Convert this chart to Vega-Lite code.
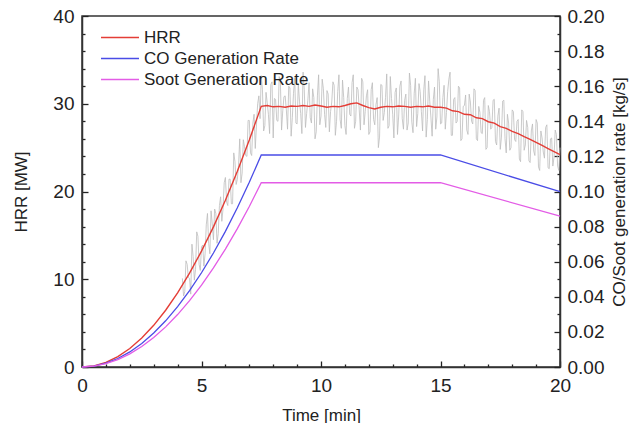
{
  "$schema": "https://vega.github.io/schema/vega-lite/v6.json",
  "width": 478,
  "height": 351,
  "autosize": {"type": "none"},
  "padding": {"left": 82, "top": 16, "right": 80, "bottom": 56},
  "background": "white",
  "config": {
    "font": "Liberation Sans",
    "view": {"stroke": "#333", "strokeWidth": 1.5},
    "axis": {
      "domainColor": "#333", "domainWidth": 1.5, "tickColor": "#222", "tickWidth": 1.3, "ticks": true, "tickSize": 6,
      "grid": false, "labelFont": "Liberation Sans", "labelFontSize": 19, "labelColor": "#222",
      "titleFont": "Liberation Sans", "titleFontSize": 17, "titleFontWeight": "normal", "titleColor": "#222",
      "labelFlush": false, "labelOverlap": false, "labelBound": false
    }
  },
  "data": {"values": [
    {"s":"raw","t":4.2,"v":10.1},{"s":"raw","t":4.3,"v":8.6},{"s":"raw","t":4.4,"v":11.7},{"s":"raw","t":4.5,"v":10.1},{"s":"raw","t":4.6,"v":14.0},{"s":"raw","t":4.7,"v":9.9},{"s":"raw","t":4.8,"v":15.4},{"s":"raw","t":4.9,"v":11.7},
    {"s":"raw","t":5.0,"v":13.7},{"s":"raw","t":5.1,"v":11.5},{"s":"raw","t":5.2,"v":16.2},{"s":"raw","t":5.3,"v":14.1},{"s":"raw","t":5.4,"v":17.8},{"s":"raw","t":5.5,"v":14.5},{"s":"raw","t":5.6,"v":17.5},{"s":"raw","t":5.7,"v":15.2},{"s":"raw","t":5.8,"v":19.4},{"s":"raw","t":5.9,"v":18.0},
    {"s":"raw","t":6.0,"v":21.6},{"s":"raw","t":6.1,"v":18.4},{"s":"raw","t":6.2,"v":21.4},{"s":"raw","t":6.3,"v":18.6},{"s":"raw","t":6.4,"v":23.4},{"s":"raw","t":6.5,"v":21.4},{"s":"raw","t":6.6,"v":26.0},{"s":"raw","t":6.7,"v":22.1},{"s":"raw","t":6.8,"v":25.1},{"s":"raw","t":6.9,"v":24.0},
    {"s":"raw","t":7.0,"v":28.1},{"s":"raw","t":7.1,"v":24.1},{"s":"raw","t":7.2,"v":28.8},{"s":"raw","t":7.3,"v":27.6},{"s":"raw","t":7.4,"v":30.9},{"s":"raw","t":7.5,"v":33.2},{"s":"raw","t":7.6,"v":26.9},{"s":"raw","t":7.7,"v":31.3},{"s":"raw","t":7.8,"v":28.8},{"s":"raw","t":7.9,"v":32.2},
    {"s":"raw","t":8.0,"v":26.1},{"s":"raw","t":8.1,"v":30.5},{"s":"raw","t":8.2,"v":28.0},{"s":"raw","t":8.3,"v":32.6},{"s":"raw","t":8.4,"v":29.2},{"s":"raw","t":8.5,"v":30.9},{"s":"raw","t":8.6,"v":27.1},{"s":"raw","t":8.7,"v":31.8},{"s":"raw","t":8.8,"v":28.4},{"s":"raw","t":8.9,"v":33.0},
    {"s":"raw","t":9.0,"v":27.7},{"s":"raw","t":9.1,"v":30.3},{"s":"raw","t":9.2,"v":26.6},{"s":"raw","t":9.3,"v":31.6},{"s":"raw","t":9.4,"v":28.9},{"s":"raw","t":9.5,"v":32.4},{"s":"raw","t":9.6,"v":27.8},{"s":"raw","t":9.7,"v":30.7},{"s":"raw","t":9.8,"v":26.8},{"s":"raw","t":9.9,"v":33.3},
    {"s":"raw","t":10.0,"v":28.6},{"s":"raw","t":10.1,"v":31.7},{"s":"raw","t":10.2,"v":27.3},{"s":"raw","t":10.3,"v":31.1},{"s":"raw","t":10.4,"v":29.1},{"s":"raw","t":10.5,"v":32.5},{"s":"raw","t":10.6,"v":26.4},{"s":"raw","t":10.7,"v":31.4},{"s":"raw","t":10.8,"v":28.2},{"s":"raw","t":10.9,"v":32.7},
    {"s":"raw","t":11.0,"v":27.5},{"s":"raw","t":11.1,"v":30.6},{"s":"raw","t":11.2,"v":28.8},{"s":"raw","t":11.3,"v":32.4},{"s":"raw","t":11.4,"v":27.2},{"s":"raw","t":11.5,"v":31.9},{"s":"raw","t":11.6,"v":29.3},{"s":"raw","t":11.7,"v":32.9},{"s":"raw","t":11.8,"v":27.6},{"s":"raw","t":11.9,"v":30.9},
    {"s":"raw","t":12.0,"v":26.5},{"s":"raw","t":12.1,"v":31.6},{"s":"raw","t":12.2,"v":28.2},{"s":"raw","t":12.3,"v":29.9},{"s":"raw","t":12.4,"v":25.0},{"s":"raw","t":12.5,"v":32.2},{"s":"raw","t":12.6,"v":28.1},{"s":"raw","t":12.7,"v":30.7},{"s":"raw","t":12.8,"v":27.2},{"s":"raw","t":12.9,"v":33.1},
    {"s":"raw","t":13.0,"v":28.8},{"s":"raw","t":13.1,"v":31.3},{"s":"raw","t":13.2,"v":26.5},{"s":"raw","t":13.3,"v":32.0},{"s":"raw","t":13.4,"v":28.3},{"s":"raw","t":13.5,"v":30.4},{"s":"raw","t":13.6,"v":27.0},{"s":"raw","t":13.7,"v":33.5},{"s":"raw","t":13.8,"v":27.9},{"s":"raw","t":13.9,"v":31.2},
    {"s":"raw","t":14.0,"v":27.4},{"s":"raw","t":14.1,"v":32.3},{"s":"raw","t":14.2,"v":29.1},{"s":"raw","t":14.3,"v":31.6},{"s":"raw","t":14.4,"v":26.2},{"s":"raw","t":14.5,"v":32.6},{"s":"raw","t":14.6,"v":28.4},{"s":"raw","t":14.7,"v":30.5},{"s":"raw","t":14.8,"v":27.1},{"s":"raw","t":14.9,"v":34.0},
    {"s":"raw","t":15.0,"v":27.7},{"s":"raw","t":15.1,"v":30.7},{"s":"raw","t":15.2,"v":27.1},{"s":"raw","t":15.3,"v":31.4},{"s":"raw","t":15.4,"v":33.6},{"s":"raw","t":15.5,"v":26.4},{"s":"raw","t":15.6,"v":30.7},{"s":"raw","t":15.7,"v":28.0},{"s":"raw","t":15.8,"v":31.8},{"s":"raw","t":15.9,"v":26.0},
    {"s":"raw","t":16.0,"v":29.8},{"s":"raw","t":16.1,"v":27.0},{"s":"raw","t":16.2,"v":31.1},{"s":"raw","t":16.3,"v":28.0},{"s":"raw","t":16.4,"v":31.7},{"s":"raw","t":16.5,"v":26.0},{"s":"raw","t":16.6,"v":29.7},{"s":"raw","t":16.7,"v":26.7},{"s":"raw","t":16.8,"v":30.4},{"s":"raw","t":16.9,"v":24.8},
    {"s":"raw","t":17.0,"v":29.8},{"s":"raw","t":17.1,"v":27.1},{"s":"raw","t":17.2,"v":30.4},{"s":"raw","t":17.3,"v":25.7},{"s":"raw","t":17.4,"v":28.6},{"s":"raw","t":17.5,"v":24.8},{"s":"raw","t":17.6,"v":30.3},{"s":"raw","t":17.7,"v":26.0},{"s":"raw","t":17.8,"v":28.8},{"s":"raw","t":17.9,"v":24.7},
    {"s":"raw","t":18.0,"v":29.3},{"s":"raw","t":18.1,"v":25.9},{"s":"raw","t":18.2,"v":28.0},{"s":"raw","t":18.3,"v":23.7},{"s":"raw","t":18.4,"v":29.3},{"s":"raw","t":18.5,"v":24.7},{"s":"raw","t":18.6,"v":28.1},{"s":"raw","t":18.7,"v":23.5},{"s":"raw","t":18.8,"v":26.9},{"s":"raw","t":18.9,"v":24.6},
    {"s":"raw","t":19.0,"v":28.2},{"s":"raw","t":19.1,"v":22.8},{"s":"raw","t":19.2,"v":26.9},{"s":"raw","t":19.3,"v":24.5},{"s":"raw","t":19.4,"v":27.3},{"s":"raw","t":19.5,"v":22.7},{"s":"raw","t":19.6,"v":26.0},{"s":"raw","t":19.7,"v":22.9},{"s":"raw","t":19.8,"v":27.0},{"s":"raw","t":19.9,"v":22.9},{"s":"raw","t":20.0,"v":25.0},
    {"s":"raw","t":4.25,"v":8.1},{"s":"raw","t":4.35,"v":12.1},{"s":"raw","t":4.45,"v":10.2},{"s":"raw","t":4.55,"v":8.3},{"s":"raw","t":4.65,"v":12.6},{"s":"raw","t":4.75,"v":11.1},{"s":"raw","t":4.85,"v":14.9},{"s":"raw","t":4.95,"v":11.0},
    {"s":"raw","t":5.05,"v":13.9},{"s":"raw","t":5.15,"v":12.9},{"s":"raw","t":5.25,"v":17.5},{"s":"raw","t":5.35,"v":12.9},{"s":"raw","t":5.45,"v":16.3},{"s":"raw","t":5.55,"v":18.0},{"s":"raw","t":5.65,"v":14.1},{"s":"raw","t":5.75,"v":18.4},{"s":"raw","t":5.85,"v":16.6},{"s":"raw","t":5.95,"v":21.0},
    {"s":"raw","t":6.05,"v":18.8},{"s":"raw","t":6.15,"v":21.4},{"s":"raw","t":6.25,"v":18.6},{"s":"raw","t":6.35,"v":24.4},{"s":"raw","t":6.45,"v":20.8},{"s":"raw","t":6.55,"v":23.0},{"s":"raw","t":6.65,"v":21.0},{"s":"raw","t":6.75,"v":25.9},{"s":"raw","t":6.85,"v":24.1},{"s":"raw","t":6.95,"v":28.1},
    {"s":"raw","t":7.05,"v":24.4},{"s":"raw","t":7.15,"v":27.8},{"s":"raw","t":7.25,"v":24.9},{"s":"raw","t":7.35,"v":30.0},{"s":"raw","t":7.45,"v":28.3},{"s":"raw","t":7.55,"v":31.6},{"s":"raw","t":7.65,"v":27.5},{"s":"raw","t":7.75,"v":30.1},{"s":"raw","t":7.85,"v":26.6},{"s":"raw","t":7.95,"v":32.5},
    {"s":"raw","t":8.05,"v":30.6},{"s":"raw","t":8.15,"v":28.1},{"s":"raw","t":8.25,"v":33.1},{"s":"raw","t":8.35,"v":27.0},{"s":"raw","t":8.45,"v":30.8},{"s":"raw","t":8.55,"v":29.3},{"s":"raw","t":8.65,"v":32.0},{"s":"raw","t":8.75,"v":26.3},{"s":"raw","t":8.85,"v":31.2},{"s":"raw","t":8.95,"v":27.8},
    {"s":"raw","t":9.05,"v":32.3},{"s":"raw","t":9.15,"v":28.9},{"s":"raw","t":9.25,"v":33.6},{"s":"raw","t":9.35,"v":27.3},{"s":"raw","t":9.45,"v":30.4},{"s":"raw","t":9.55,"v":28.4},{"s":"raw","t":9.65,"v":31.7},{"s":"raw","t":9.75,"v":26.0},{"s":"raw","t":9.85,"v":30.9},{"s":"raw","t":9.95,"v":27.6},
    {"s":"raw","t":10.05,"v":32.8},{"s":"raw","t":10.15,"v":28.8},{"s":"raw","t":10.25,"v":31.5},{"s":"raw","t":10.35,"v":26.8},{"s":"raw","t":10.45,"v":30.2},{"s":"raw","t":10.55,"v":32.1},{"s":"raw","t":10.65,"v":28.0},{"s":"raw","t":10.75,"v":33.3},{"s":"raw","t":10.85,"v":27.2},{"s":"raw","t":10.95,"v":30.7},
    {"s":"raw","t":11.05,"v":26.5},{"s":"raw","t":11.15,"v":31.9},{"s":"raw","t":11.25,"v":28.6},{"s":"raw","t":11.35,"v":33.3},{"s":"raw","t":11.45,"v":28.0},{"s":"raw","t":11.55,"v":31.6},{"s":"raw","t":11.65,"v":27.0},{"s":"raw","t":11.75,"v":32.5},{"s":"raw","t":11.85,"v":29.1},{"s":"raw","t":11.95,"v":31.6},
    {"s":"raw","t":12.05,"v":26.8},{"s":"raw","t":12.15,"v":32.4},{"s":"raw","t":12.25,"v":27.6},{"s":"raw","t":12.35,"v":30.7},{"s":"raw","t":12.45,"v":26.2},{"s":"raw","t":12.55,"v":32.1},{"s":"raw","t":12.65,"v":29.0},{"s":"raw","t":12.75,"v":33.4},{"s":"raw","t":12.85,"v":27.5},{"s":"raw","t":12.95,"v":30.6},
    {"s":"raw","t":13.05,"v":26.1},{"s":"raw","t":13.15,"v":31.8},{"s":"raw","t":13.25,"v":28.6},{"s":"raw","t":13.35,"v":32.6},{"s":"raw","t":13.45,"v":27.1},{"s":"raw","t":13.55,"v":31.1},{"s":"raw","t":13.65,"v":27.8},{"s":"raw","t":13.75,"v":32.1},{"s":"raw","t":13.85,"v":26.7},{"s":"raw","t":13.95,"v":32.9},
    {"s":"raw","t":14.05,"v":28.9},{"s":"raw","t":14.15,"v":31.4},{"s":"raw","t":14.25,"v":26.9},{"s":"raw","t":14.35,"v":33.2},{"s":"raw","t":14.45,"v":28.2},{"s":"raw","t":14.55,"v":30.3},{"s":"raw","t":14.65,"v":26.3},{"s":"raw","t":14.75,"v":31.9},{"s":"raw","t":14.85,"v":28.5},{"s":"raw","t":14.95,"v":32.5},
    {"s":"raw","t":15.05,"v":27.8},{"s":"raw","t":15.15,"v":32.1},{"s":"raw","t":15.25,"v":29.0},{"s":"raw","t":15.35,"v":32.8},{"s":"raw","t":15.45,"v":26.4},{"s":"raw","t":15.55,"v":30.5},{"s":"raw","t":15.65,"v":27.8},{"s":"raw","t":15.75,"v":32.0},{"s":"raw","t":15.85,"v":25.8},{"s":"raw","t":15.95,"v":29.7},
    {"s":"raw","t":16.05,"v":31.0},{"s":"raw","t":16.15,"v":26.5},{"s":"raw","t":16.25,"v":30.2},{"s":"raw","t":16.35,"v":27.7},{"s":"raw","t":16.45,"v":31.5},{"s":"raw","t":16.55,"v":25.8},{"s":"raw","t":16.65,"v":29.0},{"s":"raw","t":16.75,"v":26.6},{"s":"raw","t":16.85,"v":30.7},{"s":"raw","t":16.95,"v":25.0},
    {"s":"raw","t":17.05,"v":29.1},{"s":"raw","t":17.15,"v":27.3},{"s":"raw","t":17.25,"v":30.5},{"s":"raw","t":17.35,"v":25.3},{"s":"raw","t":17.45,"v":29.5},{"s":"raw","t":17.55,"v":26.2},{"s":"raw","t":17.65,"v":30.4},{"s":"raw","t":17.75,"v":24.4},{"s":"raw","t":17.85,"v":27.8},{"s":"raw","t":17.95,"v":25.0},
    {"s":"raw","t":18.05,"v":29.1},{"s":"raw","t":18.15,"v":25.7},{"s":"raw","t":18.25,"v":28.2},{"s":"raw","t":18.35,"v":23.4},{"s":"raw","t":18.45,"v":29.1},{"s":"raw","t":18.55,"v":25.3},{"s":"raw","t":18.65,"v":27.3},{"s":"raw","t":18.75,"v":23.3},{"s":"raw","t":18.85,"v":27.7},{"s":"raw","t":18.95,"v":24.1},
    {"s":"raw","t":19.05,"v":27.8},{"s":"raw","t":19.15,"v":22.4},{"s":"raw","t":19.25,"v":26.1},{"s":"raw","t":19.35,"v":23.8},{"s":"raw","t":19.45,"v":27.6},{"s":"raw","t":19.55,"v":22.6},{"s":"raw","t":19.65,"v":26.1},{"s":"raw","t":19.75,"v":23.9},{"s":"raw","t":19.85,"v":26.5},{"s":"raw","t":19.95,"v":22.4},
    {"s":"HRR","t":0,"v":0},{"s":"HRR","t":0.5,"v":0.13},{"s":"HRR","t":1,"v":0.53},{"s":"HRR","t":1.5,"v":1.19},{"s":"HRR","t":2,"v":2.11},{"s":"HRR","t":2.5,"v":3.3},{"s":"HRR","t":3,"v":4.75},{"s":"HRR","t":3.5,"v":6.47},{"s":"HRR","t":4,"v":8.45},{"s":"HRR","t":4.5,"v":10.69},{"s":"HRR","t":5,"v":13.2},{"s":"HRR","t":5.5,"v":15.97},{"s":"HRR","t":6,"v":19.01},{"s":"HRR","t":6.5,"v":22.31},{"s":"HRR","t":7,"v":25.87},{"s":"HRR","t":7.5,"v":29.7},
    {"s":"HRR","t":7.75,"v":29.8},{"s":"HRR","t":8.0,"v":29.65},{"s":"HRR","t":8.25,"v":29.7},{"s":"HRR","t":8.5,"v":29.6},{"s":"HRR","t":8.75,"v":29.75},{"s":"HRR","t":9.0,"v":29.7},{"s":"HRR","t":9.25,"v":29.8},{"s":"HRR","t":9.5,"v":29.7},{"s":"HRR","t":9.75,"v":29.85},{"s":"HRR","t":10.0,"v":29.75},{"s":"HRR","t":10.25,"v":29.6},{"s":"HRR","t":10.5,"v":29.7},{"s":"HRR","t":10.75,"v":29.65},{"s":"HRR","t":11.0,"v":29.8},{"s":"HRR","t":11.25,"v":30.0},{"s":"HRR","t":11.5,"v":30.1},{"s":"HRR","t":11.75,"v":29.8},{"s":"HRR","t":12.0,"v":29.55},{"s":"HRR","t":12.25,"v":29.4},{"s":"HRR","t":12.5,"v":29.6},{"s":"HRR","t":12.75,"v":29.7},{"s":"HRR","t":13.0,"v":29.65},{"s":"HRR","t":13.25,"v":29.75},{"s":"HRR","t":13.5,"v":29.7},{"s":"HRR","t":13.75,"v":29.6},{"s":"HRR","t":14.0,"v":29.7},{"s":"HRR","t":14.25,"v":29.65},{"s":"HRR","t":14.5,"v":29.75},{"s":"HRR","t":14.75,"v":29.6},{"s":"HRR","t":15.0,"v":29.6},
    {"s":"HRR","t":15.25,"v":29.5},{"s":"HRR","t":15.5,"v":29.2},{"s":"HRR","t":15.75,"v":29.1},{"s":"HRR","t":16.0,"v":28.8},{"s":"HRR","t":16.25,"v":28.75},{"s":"HRR","t":16.5,"v":28.4},{"s":"HRR","t":16.75,"v":28.3},{"s":"HRR","t":17.0,"v":27.95},{"s":"HRR","t":17.25,"v":27.8},{"s":"HRR","t":17.5,"v":27.4},{"s":"HRR","t":17.75,"v":27.2},{"s":"HRR","t":18.0,"v":26.85},{"s":"HRR","t":18.25,"v":26.6},{"s":"HRR","t":18.5,"v":26.25},{"s":"HRR","t":18.75,"v":25.95},{"s":"HRR","t":19.0,"v":25.6},{"s":"HRR","t":19.25,"v":25.25},{"s":"HRR","t":19.5,"v":24.9},{"s":"HRR","t":19.75,"v":24.55},{"s":"HRR","t":20.0,"v":24.2},
    {"s":"CO Generation Rate","t":0,"v":0},{"s":"CO Generation Rate","t":0.5,"v":0.00054},{"s":"CO Generation Rate","t":1,"v":0.00215},{"s":"CO Generation Rate","t":1.5,"v":0.00483},{"s":"CO Generation Rate","t":2,"v":0.00859},{"s":"CO Generation Rate","t":2.5,"v":0.01342},{"s":"CO Generation Rate","t":3,"v":0.01933},{"s":"CO Generation Rate","t":3.5,"v":0.02631},{"s":"CO Generation Rate","t":4,"v":0.03436},{"s":"CO Generation Rate","t":4.5,"v":0.04349},{"s":"CO Generation Rate","t":5,"v":0.05369},{"s":"CO Generation Rate","t":5.5,"v":0.06497},{"s":"CO Generation Rate","t":6,"v":0.07731},{"s":"CO Generation Rate","t":6.5,"v":0.09073},{"s":"CO Generation Rate","t":7,"v":0.10523},{"s":"CO Generation Rate","t":7.5,"v":0.1208},{"s":"CO Generation Rate","t":15,"v":0.1208},{"s":"CO Generation Rate","t":20,"v":0.0999},
    {"s":"Soot Generation Rate","t":0,"v":0},{"s":"Soot Generation Rate","t":0.5,"v":0.00047},{"s":"Soot Generation Rate","t":1,"v":0.00187},{"s":"Soot Generation Rate","t":1.5,"v":0.0042},{"s":"Soot Generation Rate","t":2,"v":0.00747},{"s":"Soot Generation Rate","t":2.5,"v":0.01167},{"s":"Soot Generation Rate","t":3,"v":0.0168},{"s":"Soot Generation Rate","t":3.5,"v":0.02287},{"s":"Soot Generation Rate","t":4,"v":0.02987},{"s":"Soot Generation Rate","t":4.5,"v":0.0378},{"s":"Soot Generation Rate","t":5,"v":0.04667},{"s":"Soot Generation Rate","t":5.5,"v":0.05647},{"s":"Soot Generation Rate","t":6,"v":0.0672},{"s":"Soot Generation Rate","t":6.5,"v":0.07887},{"s":"Soot Generation Rate","t":7,"v":0.09147},{"s":"Soot Generation Rate","t":7.5,"v":0.105},{"s":"Soot Generation Rate","t":15,"v":0.105},{"s":"Soot Generation Rate","t":20,"v":0.086}
  ]},
  "encoding": {
    "x": {
      "field": "t", "type": "quantitative",
      "scale": {"domain": [0, 20], "nice": false, "zero": false},
      "axis": {
        "title": "Time [min]",
        "values": [0,1,2,3,4,5,6,7,8,9,10,11,12,13,14,15,16,17,18,19,20],
        "labelExpr": "datum.value % 5 === 0 ? datum.label : ''",
        "labelPadding": 3, "titlePadding": 12,
        "encoding": {"ticks": {"y2": {"condition": {"test": "datum.value % 5 === 0", "value": -6}, "value": -3}}}
      }
    }
  },
  "layer": [
    {
      "encoding": {
        "y": {
          "field": "v", "type": "quantitative",
          "scale": {"domain": [0, 40], "nice": false},
          "axis": {
            "orient": "left", "title": "HRR [MW]",
            "values": [0,2,4,6,8,10,12,14,16,18,20,22,24,26,28,30,32,34,36,38,40],
            "labelExpr": "datum.value % 10 === 0 ? datum.label : ''",
            "labelPadding": 2, "titlePadding": 22,
            "encoding": {"ticks": {"x2": {"condition": {"test": "datum.value % 10 === 0", "value": 6}, "value": 3}}}
          }
        }
      },
      "layer": [
        {
          "transform": [{"filter": "datum.s === 'raw'"}],
          "mark": {"type": "line", "strokeWidth": 0.8, "color": "#bcbcbc"}
        },
        {
          "transform": [{"filter": "datum.s === 'HRR'"}],
          "mark": {"type": "line", "strokeWidth": 1.4},
          "encoding": {
            "color": {
              "field": "s", "type": "nominal",
              "scale": {"domain": ["HRR", "CO Generation Rate", "Soot Generation Rate"], "range": ["#e43d36", "#4a4ce6", "#e35ce6"]},
              "legend": {
                "orient": "none", "legendX": 18, "legendY": 12, "title": null,
                "symbolType": "stroke", "symbolSize": 1444, "symbolStrokeWidth": 1.5,
                "labelFont": "Liberation Sans", "labelFontSize": 17, "labelColor": "#222", "labelLimit": 400,
                "clipHeight": 19, "rowPadding": 2, "padding": 0, "labelOffset": 4
              }
            }
          }
        }
      ]
    },
    {
      "transform": [{"filter": "datum.s === 'CO Generation Rate' || datum.s === 'Soot Generation Rate'"}],
      "mark": {"type": "line", "strokeWidth": 1.3},
      "encoding": {
        "y": {
          "field": "v", "type": "quantitative",
          "scale": {"domain": [0, 0.2], "nice": false},
          "axis": {
            "orient": "right", "title": "CO/Soot generation rate [kg/s]",
            "values": [0,0.01,0.02,0.03,0.04,0.05,0.06,0.07,0.08,0.09,0.1,0.11,0.12,0.13,0.14,0.15,0.16,0.17,0.18,0.19,0.2],
            "labelExpr": "round(datum.value * 100) % 2 === 0 ? format(datum.value, '.2f') : ''",
            "labelPadding": 1, "titlePadding": 8, "titleAngle": 270, "titleBaseline": "top",
            "encoding": {"ticks": {"x2": {"condition": {"test": "round(datum.value * 100) % 2 === 0", "value": -6}, "value": -3}}}
          }
        },
        "color": {
          "field": "s", "type": "nominal",
          "scale": {"domain": ["HRR", "CO Generation Rate", "Soot Generation Rate"], "range": ["#e43d36", "#4a4ce6", "#e35ce6"]}
        }
      }
    }
  ],
  "resolve": {"scale": {"y": "independent"}}
}
